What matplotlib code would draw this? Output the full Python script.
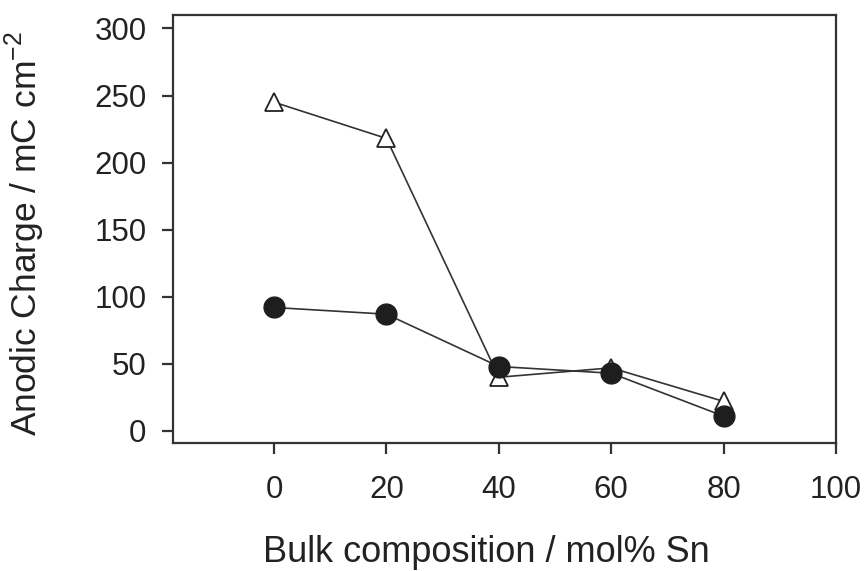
import matplotlib.pyplot as plt

plt.rcParams['font.family'] = ['Liberation Sans', 'DejaVu Sans']

# bulk composition (mol% Sn)
sn = [0, 20, 40, 60, 80]
# anodic charge, mC cm^-2
charge_open = [245, 218, 40, 47, 22]
charge_filled = [92, 87, 48, 43, 11]

fig = plt.figure(figsize=(8.67, 5.71), dpi=100)
ax = fig.add_axes([0.1995, 0.2242, 0.7647, 0.7495])

ax.plot(sn, charge_open, '-', color='#333333', lw=1.2,
        marker='^', ms=13, mfc='white', mec='#222222', mew=1.3)
ax.plot(sn, charge_filled, '-', color='#333333', lw=1.2,
        marker='o', ms=15, mfc='#1e1e1e', mec='#1e1e1e')

ax.set_xlim(-18, 100)
ax.set_ylim(-9, 310)
ax.set_xticks([0, 20, 40, 60, 80, 100])
ax.set_yticks([0, 50, 100, 150, 200, 250, 300])

for s in ax.spines.values():
    s.set_linewidth(1.6)
    s.set_color('#333333')
ax.tick_params(direction='out', length=8, width=1.6, color='#333333',
               labelsize=22.5, labelcolor='#222222')
ax.tick_params(axis='x', pad=15)
ax.tick_params(axis='y', pad=11)

ax.set_xlabel('Bulk composition / mol% Sn', fontsize=26, color='#222222')
ax.xaxis.set_label_coords(0.472, -0.215)
ax.set_ylabel(r'Anodic Charge / mC cm$^{\mathregular{-2}}$', fontsize=25.5,
              color='#222222')
ax.yaxis.set_label_coords(-0.19, 0.49)

fig.savefig('out.png', dpi=100)
